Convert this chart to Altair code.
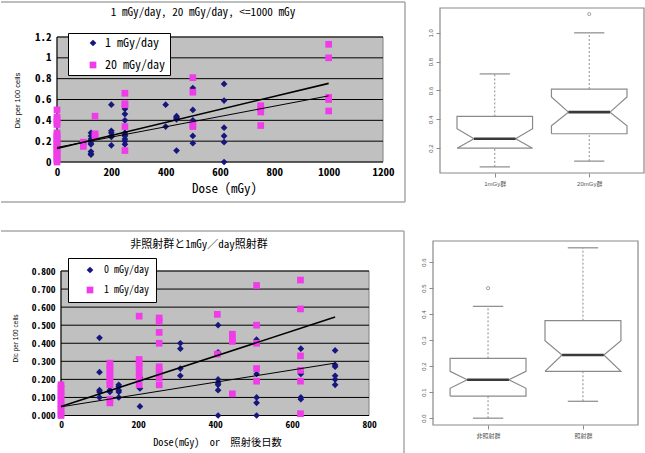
import json
import altair as alt
import pandas as pd

MONO = "Noto Sans Mono CJK JP, DejaVu Sans Mono, monospace"
SANS = "Liberation Sans, Noto Sans CJK JP, sans-serif"
NAVY = "#16167c"
MAGENTA = "#f03ce8"
PLOT_GRAY = "#c0c0c0"
FRAME_GRAY = "#a8a8a8"
R_GRAY = "#8a8a8a"

# ---------------- upper left: 1 mGy/day vs 20 mGy/day ----------------
tl_series = ["1 mGy/day", "20 mGy/day"]
tl_low_doses = [0, 125, 200, 250, 400, 440, 500, 615]
tl_low_dic = [
    [0.10, 0.15, 0.20, 0.25],
    [0.28, 0.25, 0.22, 0.20, 0.18, 0.17, 0.10, 0.08, 0.07],
    [0.55, 0.30, 0.28, 0.25, 0.24, 0.16],
    [0.53, 0.51, 0.46, 0.40, 0.28, 0.26, 0.25, 0.22, 0.20, 0.17],
    [0.55, 0.34],
    [0.44, 0.43, 0.42, 0.41, 0.11],
    [0.71, 0.50, 0.40, 0.25, 0.18],
    [0.75, 0.59, 0.33, 0.25, 0.19, 0.00],
]
tl_high_doses = [0, 97, 140, 250, 500, 750, 1000]
tl_high_dic = [
    [0.50, 0.43, 0.41, 0.38, 0.36, 0.28, 0.26, 0.24, 0.22, 0.20,
     0.18, 0.16, 0.14, 0.12, 0.10, 0.08, 0.06, 0.04, 0.02, 0.00],
    [0.19, 0.15],
    [0.44, 0.27, 0.25],
    [0.66, 0.56, 0.55, 0.34, 0.11],
    [0.81, 0.67, 0.36, 0.34],
    [0.54, 0.51, 0.48, 0.35],
    [1.13, 1.00, 0.62, 0.60, 0.49],
]
tl_fit_doses = [0, 1000]
tl_fit_steep = [0.13, 0.755]
tl_fit_shallow = [0.14, 0.635]
tl_x_ticks = [0, 200, 400, 600, 800, 1000, 1200]
tl_y_ticks = [0, 0.2, 0.4, 0.6, 0.8, 1.0, 1.2]

# ---------------- lower left: 0 mGy/day vs 1 mGy/day ----------------
bl_series = ["0 mGy/day", "1 mGy/day"]
bl_ctrl_doses = [0, 100, 127, 150, 205, 310, 408, 508, 623, 712]
bl_ctrl_dic = [
    [0.16, 0.10, 0.07, 0.05],
    [0.43, 0.24, 0.14, 0.13, 0.10],
    [0.27, 0.16, 0.14, 0.13],
    [0.17, 0.16, 0.14, 0.13, 0.10],
    [0.21, 0.20, 0.15, 0.05],
    [0.40, 0.37, 0.26, 0.22],
    [0.50, 0.35, 0.20, 0.18, 0.17, 0.14, 0.00],
    [0.42, 0.41, 0.23, 0.10, 0.07, 0.00],
    [0.37, 0.24, 0.23, 0.10, 0.09],
    [0.36, 0.28, 0.27, 0.22, 0.20, 0.17],
]
bl_irr_doses = [0, 127, 203, 255, 406, 445, 508, 622]
bl_irr_dic = [
    [0.17, 0.15, 0.13, 0.11, 0.09, 0.07, 0.05, 0.03, 0.01, 0.00],
    [0.29, 0.27, 0.25, 0.23, 0.21, 0.19, 0.17, 0.09, 0.07],
    [0.55, 0.31, 0.29, 0.27, 0.24, 0.21, 0.17],
    [0.54, 0.52, 0.46, 0.40, 0.27, 0.25, 0.23, 0.21, 0.17],
    [0.56, 0.34],
    [0.45, 0.43, 0.41, 0.12],
    [0.72, 0.50, 0.40, 0.26, 0.19],
    [0.75, 0.59, 0.33, 0.25, 0.19, 0.01],
]
bl_fit_doses = [0, 712]
bl_fit_steep = [0.05, 0.545]
bl_fit_shallow = [0.048, 0.29]
bl_x_ticks = [0, 200, 400, 600, 800]
bl_y_ticks = [0, 0.1, 0.2, 0.3, 0.4, 0.5, 0.6, 0.7, 0.8]

# ---------------- notched box plots ----------------
tr_names = ["1mGy群", "20mGy群"]
tr_lo = [0.07, 0.11]
tr_q1 = [0.20, 0.30]
tr_med = [0.265, 0.45]
tr_q3 = [0.42, 0.61]
tr_hi = [0.715, 1.00]
tr_notch_lo = [0.20, 0.355]
tr_notch_hi = [0.335, 0.555]
tr_out_group = [2]
tr_out_value = [1.13]
tr_y_ticks = [0.2, 0.4, 0.6, 0.8, 1.0]

br_names = ["非照射群", "照射群"]
br_lo = [0.0, 0.065]
br_q1 = [0.085, 0.18]
br_med = [0.148, 0.243]
br_q3 = [0.23, 0.375]
br_hi = [0.43, 0.655]
br_notch_lo = [0.115, 0.18]
br_notch_hi = [0.18, 0.298]
br_out_group = [1]
br_out_value = [0.50]
br_y_ticks = [0.0, 0.1, 0.2, 0.3, 0.4, 0.5, 0.6]


def long_points(doses, values, series):
    rows = [{"dose": d, "dic": v, "series": series}
            for d, vs in zip(doses, values) for v in vs]
    return pd.DataFrame(rows)


def excel_panel(points, fit_x, fits, series, colors, x_ticks, y_ticks, y_fmt,
                size, inner, fonts, title, title_xy, x_title, x_title_xy, y_title,
                y_title_xy, legend_opts, frame_lines):
    W, H = size
    L, R, T, B = inner
    tick_fs, title_fs, xtitle_fs, ytitle_fs = fonts
    xmax, ymax = x_ticks[-1], y_ticks[-1]
    kx = (R - L) / xmax
    ky = (B - T) / ymax
    xs = alt.Scale(domain=[-L / kx, xmax + (W - R) / kx], nice=False, zero=False)
    ys = alt.Scale(domain=[-(H - B) / ky, ymax + T / ky], nice=False, zero=False)

    x_axis = alt.Axis(values=x_ticks, format="d", offset=-(H - B), domain=False,
                      ticks=False, grid=False, labelFont=MONO, labelFontSize=tick_fs,
                      labelFontWeight="bold", labelColor="black", labelPadding=4,
                      labelOverlap=False, labelFlush=False,
                      title=x_title, titleFont=MONO, titleFontSize=xtitle_fs,
                      titleFontWeight="normal", titleColor="black",
                      titleX=x_title_xy[0], titleY=x_title_xy[1] - B,
                      titleAlign="center", titleBaseline="middle")
    y_axis = alt.Axis(values=y_ticks, format=y_fmt, offset=-L, domain=False,
                      ticks=False, grid=False, labelFont=MONO, labelFontSize=tick_fs,
                      labelFontWeight="bold", labelColor="black", labelPadding=6,
                      labelOverlap=False, labelFlush=False,
                      title=y_title, titleFont=SANS, titleFontSize=ytitle_fs,
                      titleFontWeight="normal", titleColor="black",
                      titleX=y_title_xy[0] - L, titleY=y_title_xy[1],
                      titleAngle=270, titleAlign="center", titleBaseline="middle")

    def xq(field):
        return alt.X(field, type="quantitative", scale=xs, axis=x_axis)

    def yq(field):
        return alt.Y(field, type="quantitative", scale=ys, axis=y_axis)

    bg = alt.Chart(pd.DataFrame({"x0": [0], "x1": [xmax], "y0": [0], "y1": [ymax]})).mark_rect(
        fill=PLOT_GRAY, stroke="#808080", strokeWidth=1
    ).encode(x=xq("x0"), x2="x1", y=yq("y0"), y2="y1")

    grid = alt.Chart(pd.DataFrame({"v": y_ticks, "x0": 0, "x1": xmax})).mark_rule(
        color="black", strokeWidth=1
    ).encode(x=xq("x0"), x2="x1", y=yq("v"))

    y_line = alt.Chart(pd.DataFrame({"x0": [0], "y0": [0], "y1": [ymax]})).mark_rule(
        color="black", strokeWidth=1
    ).encode(x=xq("x0"), y=yq("y0"), y2="y1")

    lx, ly, lpad, lrow, lsym, llab, lfs = legend_opts
    legend = alt.Legend(title=None, orient="none", legendX=lx, legendY=ly,
                        fillColor="white", strokeColor="black", padding=lpad,
                        rowPadding=lrow, symbolOffset=lsym, labelOffset=llab,
                        labelFont=MONO, labelFontSize=lfs, labelColor="black",
                        labelExpr="datum.label + '\u2002\u2002'",
                        symbolSize=45, symbolStrokeWidth=0)
    pts = alt.Chart(points).mark_point(filled=True, opacity=1, size=45, strokeWidth=0).encode(
        x=xq("dose"), y=yq("dic"),
        color=alt.Color("series:N", scale=alt.Scale(domain=series, range=colors), legend=legend),
        shape=alt.Shape("series:N", scale=alt.Scale(domain=series, range=["diamond", "square"]),
                        legend=legend),
    )

    layers = [bg, grid, y_line, pts]
    for fit, width in zip(fits, [1.6, 1.0]):
        layers.append(
            alt.Chart(pd.DataFrame({"dose": fit_x, "dic": fit})).mark_line(
                color="black", strokeWidth=width
            ).encode(x=xq("dose"), y=yq("dic"))
        )

    frame = alt.Chart(pd.DataFrame(frame_lines, columns=["px", "px2", "py", "py2"])).mark_rule(
        color=FRAME_GRAY, strokeWidth=1.5
    ).encode(
        x=alt.X("px:Q", scale=None, axis=None), x2="px2",
        y=alt.Y("py:Q", scale=None, axis=None), y2="py2",
    )
    head = alt.Chart(pd.DataFrame({"t": [title], "px": [title_xy[0]], "py": [title_xy[1]]})).mark_text(
        font=MONO, fontSize=title_fs, color="black", align="center", baseline="middle"
    ).encode(
        text="t:N",
        x=alt.X("px:Q", scale=None, axis=None),
        y=alt.Y("py:Q", scale=None, axis=None),
    )
    layers += [frame, head]
    return alt.layer(*layers).properties(width=W, height=H)


def r_panel(names, lo, q1, med, q3, hi, nlo, nhi, out_g, out_v, y_ticks, size, frame):
    W, H = size
    fl, fr, ft, fb = frame
    n = len(names)
    vals = lo + hi + out_v
    ylo, yhi = min(vals), max(vals)
    pad = 0.04 * (yhi - ylo)
    uy0, uy1 = ylo - pad, yhi + pad
    ux0, ux1 = 0.5 - 0.04 * n, n + 0.5 + 0.04 * n
    kx = (fr - fl) / (ux1 - ux0)
    ky = (fb - ft) / (uy1 - uy0)
    xs = alt.Scale(domain=[ux0 - fl / kx, ux1 + (W - fr) / kx], nice=False, zero=False)
    ys = alt.Scale(domain=[uy0 - (H - fb) / ky, uy1 + ft / ky], nice=False, zero=False)

    half, notch, staple = 0.4, 0.55, 0.16
    poly, med_rows, whisk, staples = [], [], [], []
    for i in range(n):
        c = i + 1
        xx = [-1, 1, 1, notch, 1, 1, -1, -1, -notch, -1, -1]
        yy = [q1[i], q1[i], nlo[i], med[i], nhi[i], q3[i], q3[i], nhi[i], med[i], nlo[i], q1[i]]
        for k, (a, b) in enumerate(zip(xx, yy)):
            poly.append({"box": i, "k": k, "x": c + half * a, "y": b})
        med_rows.append({"x0": c - half * notch, "x1": c + half * notch, "y": med[i]})
        whisk.append({"x": c, "y0": q3[i], "y1": hi[i]})
        whisk.append({"x": c, "y0": lo[i], "y1": q1[i]})
        staples.append({"x0": c - staple, "x1": c + staple, "y": hi[i]})
        staples.append({"x0": c - staple, "x1": c + staple, "y": lo[i]})

    label_expr = json.dumps(names) + "[datum.value - 1]"
    x_axis = alt.Axis(values=list(range(1, n + 1)), labelExpr=label_expr, offset=-(H - fb),
                      domain=False, grid=False, tickSize=4, tickColor=R_GRAY,
                      labelFont=SANS, labelFontSize=6, labelColor="#555555",
                      labelPadding=3, labelFlush=False, title=None)
    y_axis = alt.Axis(values=y_ticks, format=".1f", offset=-fl, domain=False, grid=False,
                      tickSize=4, tickColor=R_GRAY, labelAngle=270, labelFont=SANS,
                      labelFontSize=6, labelColor="#555555", labelPadding=3,
                      labelOverlap=False, labelFlush=False, title=None)

    def xq(field):
        return alt.X(field, type="quantitative", scale=xs, axis=x_axis)

    def yq(field):
        return alt.Y(field, type="quantitative", scale=ys, axis=y_axis)

    box_frame = alt.Chart(pd.DataFrame({"x0": [ux0], "x1": [ux1], "y0": [uy0], "y1": [uy1]})).mark_rect(
        filled=False, color=R_GRAY, strokeWidth=1.2
    ).encode(x=xq("x0"), x2="x1", y=yq("y0"), y2="y1")
    outline = alt.Chart(pd.DataFrame(poly)).mark_line(color=R_GRAY, strokeWidth=1.2).encode(
        x=xq("x"), y=yq("y"), detail="box:N", order="k:Q",
    )
    whiskers = alt.Chart(pd.DataFrame(whisk)).mark_rule(
        color=R_GRAY, strokeWidth=1, strokeDash=[2, 2]
    ).encode(x=xq("x"), y=yq("y0"), y2="y1")
    caps = alt.Chart(pd.DataFrame(staples)).mark_rule(color=R_GRAY, strokeWidth=1.2).encode(
        x=xq("x0"), x2="x1", y=yq("y"),
    )
    medians = alt.Chart(pd.DataFrame(med_rows)).mark_rule(color="#3a3a3a", strokeWidth=2.6).encode(
        x=xq("x0"), x2="x1", y=yq("y"),
    )
    outl = alt.Chart(pd.DataFrame({"g": out_g, "v": out_v})).mark_point(
        shape="circle", filled=False, size=10, color=R_GRAY, strokeWidth=0.8, opacity=1
    ).encode(x=xq("g"), y=yq("v"))
    return alt.layer(box_frame, outline, whiskers, caps, medians, outl).properties(width=W, height=H)


tl_points = pd.concat([long_points(tl_low_doses, tl_low_dic, tl_series[0]),
                       long_points(tl_high_doses, tl_high_dic, tl_series[1])], ignore_index=True)
bl_points = pd.concat([long_points(bl_ctrl_doses, bl_ctrl_dic, bl_series[0]),
                       long_points(bl_irr_doses, bl_irr_dic, bl_series[1])], ignore_index=True)

top_left = excel_panel(
    tl_points, tl_fit_doses, [tl_fit_steep, tl_fit_shallow], tl_series, [NAVY, MAGENTA],
    tl_x_ticks, tl_y_ticks, "~g", size=(405, 203), inner=(57, 383, 37, 162),
    fonts=(11, 11.2, 13, 7.5),
    title="1 mGy/day, 20 mGy/day, <=1000 mGy", title_xy=(203, 13),
    x_title="Dose (mGy)", x_title_xy=(224, 188),
    y_title="Dic per 100 cells", y_title_xy=(17, 100),
    legend_opts=(68, 33, 4, 10, 15, 6, 12),
    frame_lines=[[1, 405, 2, 2], [405, 405, 2, 202], [1, 405, 202, 202]],
)
bottom_left = excel_panel(
    bl_points, bl_fit_doses, [bl_fit_steep, bl_fit_shallow], bl_series, [NAVY, MAGENTA],
    bl_x_ticks, bl_y_ticks, ".3f", size=(405, 223), inner=(61, 369, 41, 185.5),
    fonts=(9.5, 11, 10.3, 6.5),
    title="非照射群と1mGy／day照射群", title_xy=(199, 15),
    x_title="Dose(mGy)\u00a0 or\u00a0 照射後日数", x_title_xy=(217, 212),
    y_title="Dic per 100 cells", y_title_xy=(15, 108),
    legend_opts=(68, 28, 7, 10, 10, 9, 10),
    frame_lines=[[1, 404, 1, 1], [404, 404, 1, 223]],
)
top_right = r_panel(tr_names, tr_lo, tr_q1, tr_med, tr_q3, tr_hi, tr_notch_lo, tr_notch_hi,
                    tr_out_group, tr_out_value, tr_y_ticks, size=(211, 173), frame=(7, 211, 8, 173))
bottom_right = r_panel(br_names, br_lo, br_q1, br_med, br_q3, br_hi, br_notch_lo, br_notch_hi,
                       br_out_group, br_out_value, br_y_ticks, size=(211, 195), frame=(0, 205, 11, 195))

chart = alt.concat(
    top_left, top_right, bottom_left, bottom_right,
    columns=2, spacing={"row": 27, "column": 28}, bounds="flush",
).resolve_scale(
    color="independent", shape="independent"
).resolve_legend(
    color="independent", shape="independent"
).properties(padding=0, background="white").configure_view(stroke=None)

chart.save("out.html", embed_options={"renderer": "svg", "actions": False})
